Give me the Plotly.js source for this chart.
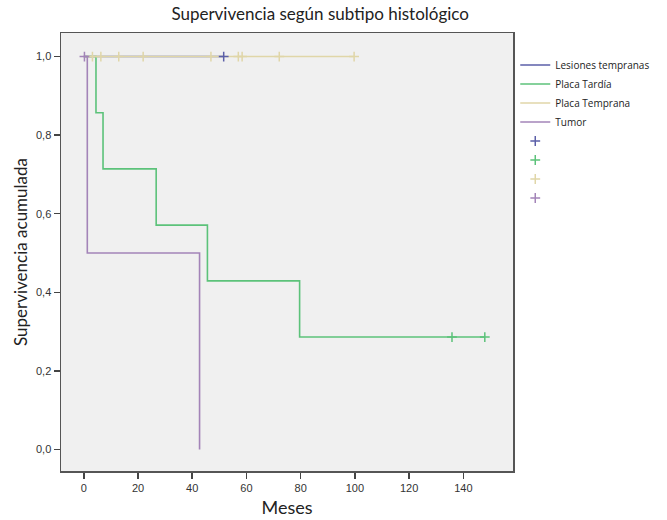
<!DOCTYPE html>
<html>
<head>
<meta charset="utf-8">
<script src="https://cdn.plot.ly/plotly-3.0.1.min.js"></script>
<style>html,body{margin:0;padding:0;background:#fff;}#chart{width:667px;height:520px;}</style>
</head>
<body>
<div id="chart"></div>
<script>
// Group names
const groups = ["Lesiones tempranas", "Placa Tardía", "Placa Temprana", "Tumor"];
const colors = ["#5b5fa8", "#5cc27a", "#e0d6a8", "#a384b8"];

// Kaplan-Meier step curves (time in months, cumulative survival)
const lesionesTime = [0, 51.6];
const lesionesSurv = [1, 1];
const tardiaTime = [0, 4.5, 7.1, 26.7, 45.6, 79.6, 147.9];
const tardiaSurv = [1, 0.857, 0.714, 0.571, 0.429, 0.286, 0.286];
const tempranaTime = [0, 99.7];
const tempranaSurv = [1, 1];
const tumorTime = [0, 1.3, 42.7];
const tumorSurv = [1, 0.5, 0];

// Censored observations
const lesionesCensT = [51.6];
const lesionesCensS = [1];
const tardiaCensT = [135.8, 147.9];
const tardiaCensS = [0.286, 0.286];
const tempranaCensT = [3.2, 6.3, 12.9, 21.9, 46.9, 57.0, 58.4, 72.1, 99.7];
const tempranaCensS = [1, 1, 1, 1, 1, 1, 1, 1, 1];
const tumorCensT = [0.25];
const tumorCensS = [1];

const curves = [[lesionesTime, lesionesSurv], [tardiaTime, tardiaSurv], [tempranaTime, tempranaSurv], [tumorTime, tumorSurv]];
const cens = [[lesionesCensT, lesionesCensS], [tardiaCensT, tardiaCensS], [tempranaCensT, tempranaCensS], [tumorCensT, tumorCensS]];

const traces = [];
curves.forEach((c, i) => {
  traces.push({x: c[0], y: c[1], type: 'scatter', mode: 'lines', name: groups[i],
    line: {shape: 'hv', color: colors[i], width: 1.6}});
});
cens.forEach((c, i) => {
  traces.push({x: c[0], y: c[1], type: 'scatter', mode: 'markers', name: ' ',
    marker: {symbol: 'cross-thin', size: 7, line: {color: colors[i], width: 1.5}, color: colors[i]}});
});

const layout = {
  width: 667, height: 520,
  margin: {l: 61, r: 144, t: 33, b: 49},
  paper_bgcolor: '#ffffff', plot_bgcolor: '#f0f0f0',
  separators: ',.',
  title: {text: 'Supervivencia según subtipo histológico', x: 0.48, xanchor: 'center', y: 0.985, yanchor: 'top',
    font: {family: 'Lato, "Open Sans", sans-serif', size: 17, color: '#222'}},
  xaxis: {range: [-8.4, 158.3], tickvals: [0, 20, 40, 60, 80, 100, 120, 140], ticktext: ['0','20','40','60','80','100','120','140'],
    ticks: 'outside', ticklen: 6, tickwidth: 1.5, tickcolor: '#444', showgrid: false, zeroline: false,
    showline: true, linecolor: '#555', linewidth: 1.5, mirror: true,
    tickfont: {family: '"Liberation Sans", Arial, sans-serif', size: 11, color: '#333'},
    title: {text: 'Meses', standoff: 8, font: {family: 'Lato, "Open Sans", sans-serif', size: 18, color: '#222'}}},
  yaxis: {range: [-0.055, 1.06], tickvals: [0, 0.2, 0.4, 0.6, 0.8, 1.0], tickformat: '.1f',
    ticks: 'outside', ticklen: 6, tickwidth: 1.5, tickcolor: '#444', showgrid: false, zeroline: false,
    showline: true, linecolor: '#555', linewidth: 1.5, mirror: true,
    tickfont: {family: '"Liberation Sans", Arial, sans-serif', size: 11, color: '#333'},
    title: {text: 'Supervivencia acumulada', standoff: 4, font: {family: 'Lato, "Open Sans", sans-serif', size: 17, color: '#222'}}},
  showlegend: true,
  legend: {x: 1.005, xanchor: 'left', y: 0.96, yanchor: 'top', bgcolor: 'rgba(0,0,0,0)',
    font: {family: '"Open Sans", "Liberation Sans", sans-serif', size: 10, color: '#222'},
    itemwidth: 30, tracegroupgap: 0, traceorder: 'normal'}
};

Plotly.newPlot('chart', traces, layout, {displayModeBar: false, staticPlot: true});
</script>
</body>
</html>
